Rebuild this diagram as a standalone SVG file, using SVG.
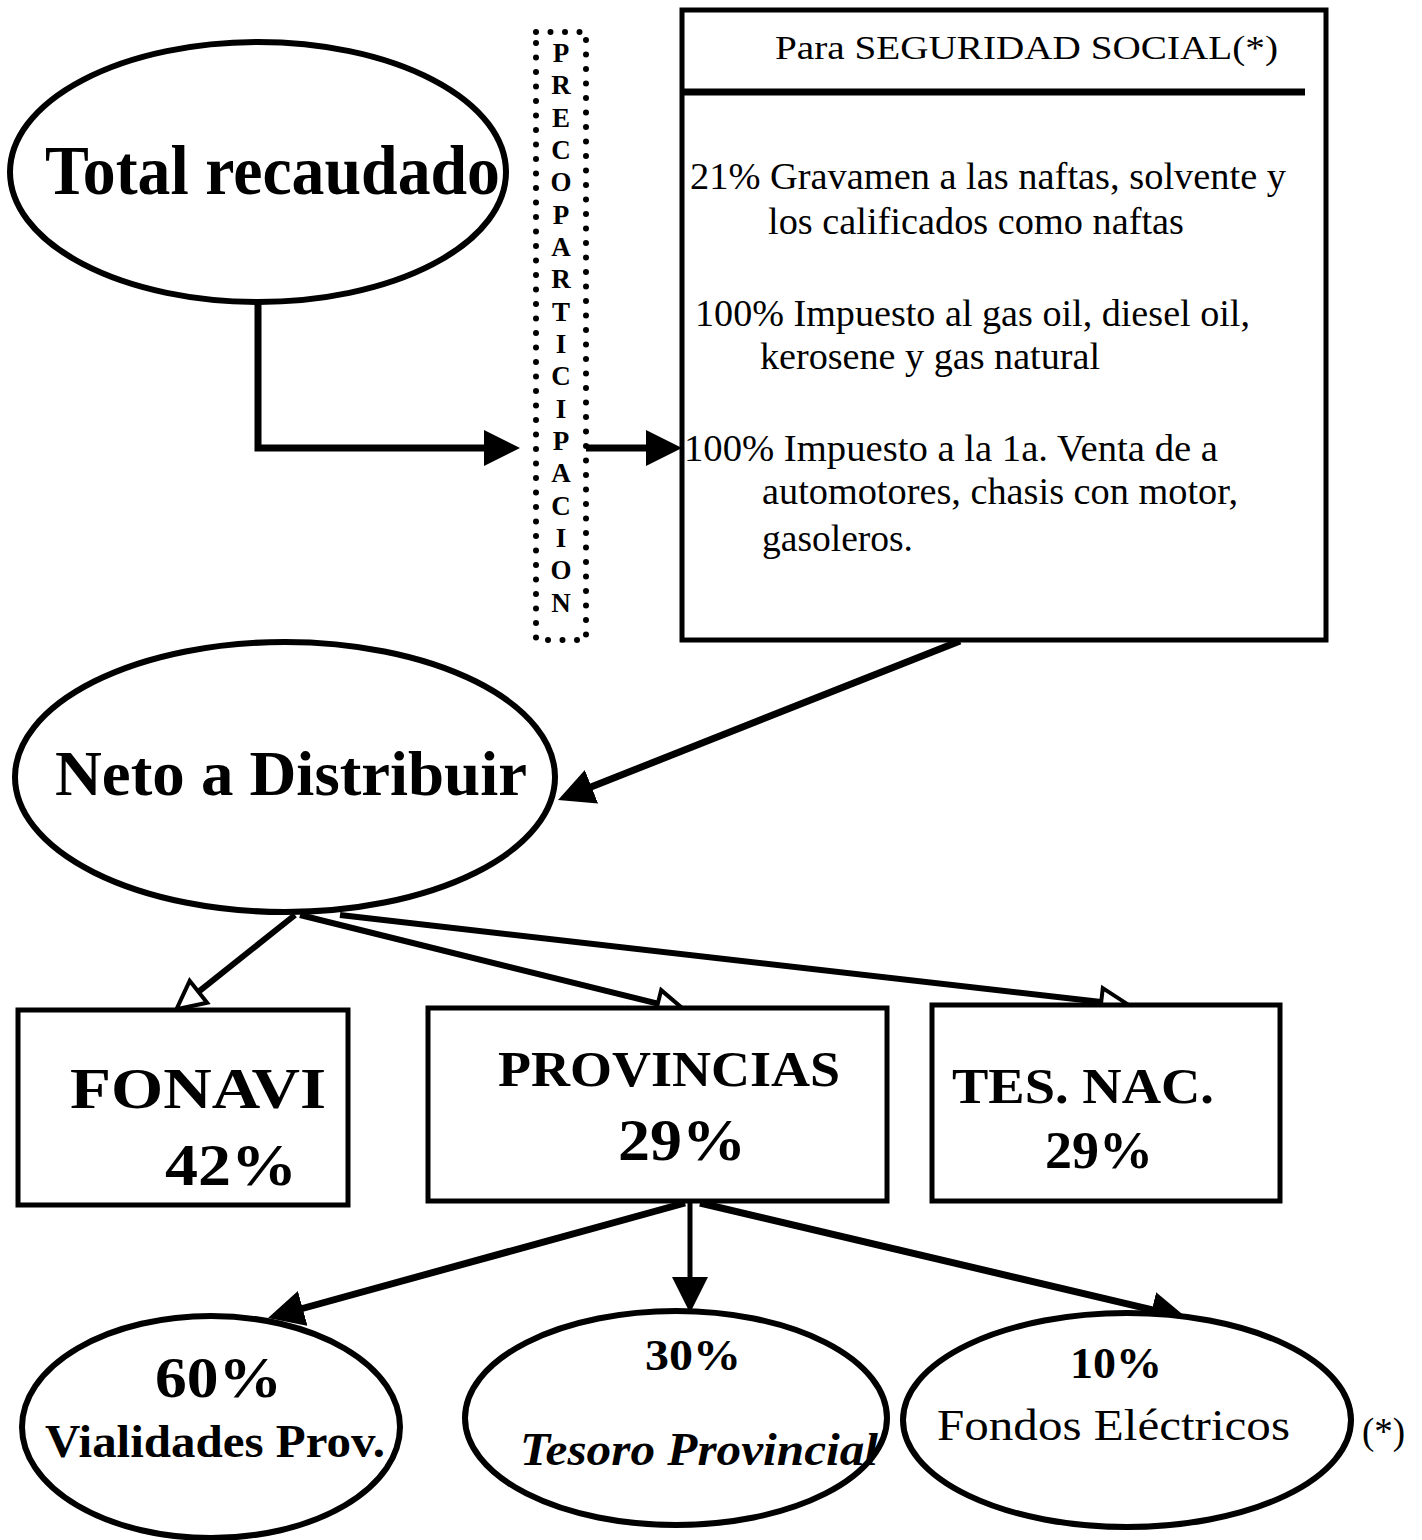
<svg xmlns="http://www.w3.org/2000/svg" width="1422" height="1540" viewBox="0 0 1422 1540">
<style>
.shape{fill:#fff;stroke:#000;stroke-width:6}
.box{fill:#fff;stroke:#000;stroke-width:5}
.conn{fill:none;stroke:#000;stroke-width:7}
.t{font-family:"Liberation Serif","Times New Roman",serif;fill:#000}
.b{font-weight:bold}
.letters{font-family:"Liberation Serif","Times New Roman",serif;font-weight:bold;font-size:27px;text-anchor:middle}
</style>
<defs>
<marker id="arrowF" viewBox="0 0 36 36" markerWidth="36" markerHeight="36" refX="6" refY="18" orient="auto" markerUnits="userSpaceOnUse">
<path d="M0,0 L36,18 L0,36 z" fill="#000"/>
</marker>
<marker id="arrowO" viewBox="0 0 30 30" markerWidth="30" markerHeight="30" refX="2" refY="15" orient="auto" markerUnits="userSpaceOnUse" overflow="visible">
<path d="M2,1 L30,15 L2,29 z" fill="#fff" stroke="#000" stroke-width="4" stroke-linejoin="miter"/>
</marker>
</defs>

<g id="connectors">
<path class="conn" d="M258,302 V448 H490" marker-end="url(#arrowF)"/>
<path class="conn" d="M586,448 H652" marker-end="url(#arrowF)"/>
<path class="conn" d="M960,641 L585.9,789" marker-end="url(#arrowF)"/>
<path class="conn" style="stroke-width:6" d="M295,915 L198.4,991.8" marker-end="url(#arrowO)"/>
<path class="conn" style="stroke-width:6" d="M300,915 L657.8,1003.7" marker-end="url(#arrowO)"/>
<path class="conn" style="stroke-width:6" d="M340,915 L1101.2,1002" marker-end="url(#arrowO)"/>
<path class="conn" d="M685,1203 L296.9,1310" marker-end="url(#arrowF)"/>
<path class="conn" style="stroke-width:5" d="M690,1203 V1283" marker-end="url(#arrowF)"/>
<path class="conn" d="M700,1203 L1157.8,1311.1" marker-end="url(#arrowF)"/>
</g>

<g id="total">
<ellipse class="shape" cx="258" cy="172" rx="248" ry="130"/>
<text class="t b" x="45" y="194" font-size="70" textLength="455" lengthAdjust="spacingAndGlyphs">Total recaudado</text>
</g>

<g id="precoparticipacion">
<rect x="536" y="32" width="50" height="608" fill="none" stroke="#000" stroke-width="6" stroke-linecap="round" stroke-dasharray="0 14.5"/>
<text class="letters" x="561">
<tspan x="561" y="62">P</tspan><tspan x="561" y="94">R</tspan><tspan x="561" y="127">E</tspan><tspan x="561" y="159">C</tspan><tspan x="561" y="191">O</tspan><tspan x="561" y="224">P</tspan><tspan x="561" y="256">A</tspan><tspan x="561" y="288">R</tspan><tspan x="561" y="321">T</tspan><tspan x="561" y="353">I</tspan><tspan x="561" y="385">C</tspan><tspan x="561" y="418">I</tspan><tspan x="561" y="450">P</tspan><tspan x="561" y="482">A</tspan><tspan x="561" y="515">C</tspan><tspan x="561" y="547">I</tspan><tspan x="561" y="579">O</tspan><tspan x="561" y="612">N</tspan>
</text>
</g>

<g id="seguridad">
<rect class="box" x="682" y="10" width="644" height="630"/>
<line x1="682" y1="92" x2="1305" y2="92" stroke="#000" stroke-width="7"/>
<text class="t" x="775" y="59" font-size="33" textLength="503" lengthAdjust="spacingAndGlyphs">Para  SEGURIDAD SOCIAL(*)</text>
<text class="t" font-size="37" lengthAdjust="spacingAndGlyphs">
<tspan x="690" y="189" textLength="596" lengthAdjust="spacingAndGlyphs">21% Gravamen a las naftas, solvente y</tspan>
<tspan x="768" y="234" textLength="416" lengthAdjust="spacingAndGlyphs">los calificados como naftas</tspan>
<tspan x="695" y="326" textLength="555" lengthAdjust="spacingAndGlyphs">100% Impuesto al gas oil, diesel oil,</tspan>
<tspan x="760" y="369" textLength="340" lengthAdjust="spacingAndGlyphs">kerosene y gas natural</tspan>
<tspan x="684" y="461" textLength="534" lengthAdjust="spacingAndGlyphs">100% Impuesto a la 1a. Venta de a</tspan>
<tspan x="762" y="504" textLength="476" lengthAdjust="spacingAndGlyphs">automotores, chasis con motor,</tspan>
<tspan x="762" y="551" textLength="151" lengthAdjust="spacingAndGlyphs">gasoleros.</tspan>
</text>
</g>

<g id="neto">
<ellipse class="shape" cx="285" cy="777" rx="270" ry="135"/>
<text class="t b" x="55" y="795" font-size="64" textLength="472" lengthAdjust="spacingAndGlyphs">Neto a Distribuir</text>
</g>

<g id="fonavi">
<rect class="box" x="18" y="1010" width="330" height="195"/>
<text class="t b" x="70" y="1108" font-size="58" textLength="256" lengthAdjust="spacingAndGlyphs">FONAVI</text>
<text class="t b" x="165" y="1185" font-size="60" textLength="132" lengthAdjust="spacingAndGlyphs">42%</text>
</g>

<g id="provincias">
<rect class="box" x="428" y="1008" width="459" height="193"/>
<text class="t b" x="498" y="1086" font-size="50" textLength="342" lengthAdjust="spacingAndGlyphs">PROVINCIAS</text>
<text class="t b" x="618" y="1160" font-size="60" textLength="128" lengthAdjust="spacingAndGlyphs">29%</text>
</g>

<g id="tesnac">
<rect class="box" x="932" y="1005" width="348" height="196"/>
<text class="t b" x="952" y="1103" font-size="50" textLength="262" lengthAdjust="spacingAndGlyphs">TES. NAC.</text>
<text class="t b" x="1045" y="1168" font-size="52" textLength="108" lengthAdjust="spacingAndGlyphs">29%</text>
</g>

<g id="vialidades">
<ellipse class="shape" cx="211" cy="1427" rx="189" ry="111"/>
<text class="t b" x="155" y="1397" font-size="56" textLength="127" lengthAdjust="spacingAndGlyphs">60%</text>
<text class="t b" x="45" y="1457" font-size="46" textLength="340" lengthAdjust="spacingAndGlyphs">Vialidades Prov.</text>
</g>

<g id="tesoro">
<ellipse class="shape" cx="676" cy="1418" rx="211" ry="107"/>
<text class="t b" x="645" y="1370" font-size="44" textLength="96" lengthAdjust="spacingAndGlyphs">30%</text>
<text class="t b" x="520" y="1465" font-size="46" font-style="italic" textLength="358" lengthAdjust="spacingAndGlyphs">Tesoro Provincial</text>
</g>

<g id="fondos">
<ellipse class="shape" cx="1127" cy="1420" rx="224" ry="107"/>
<text class="t b" x="1070" y="1378" font-size="44" textLength="92" lengthAdjust="spacingAndGlyphs">10%</text>
<text class="t" x="937" y="1440" font-size="44" textLength="353" lengthAdjust="spacingAndGlyphs">Fondos Eléctricos</text>
</g>

<text class="t" x="1362" y="1444" font-size="37">(*)</text>
</svg>
